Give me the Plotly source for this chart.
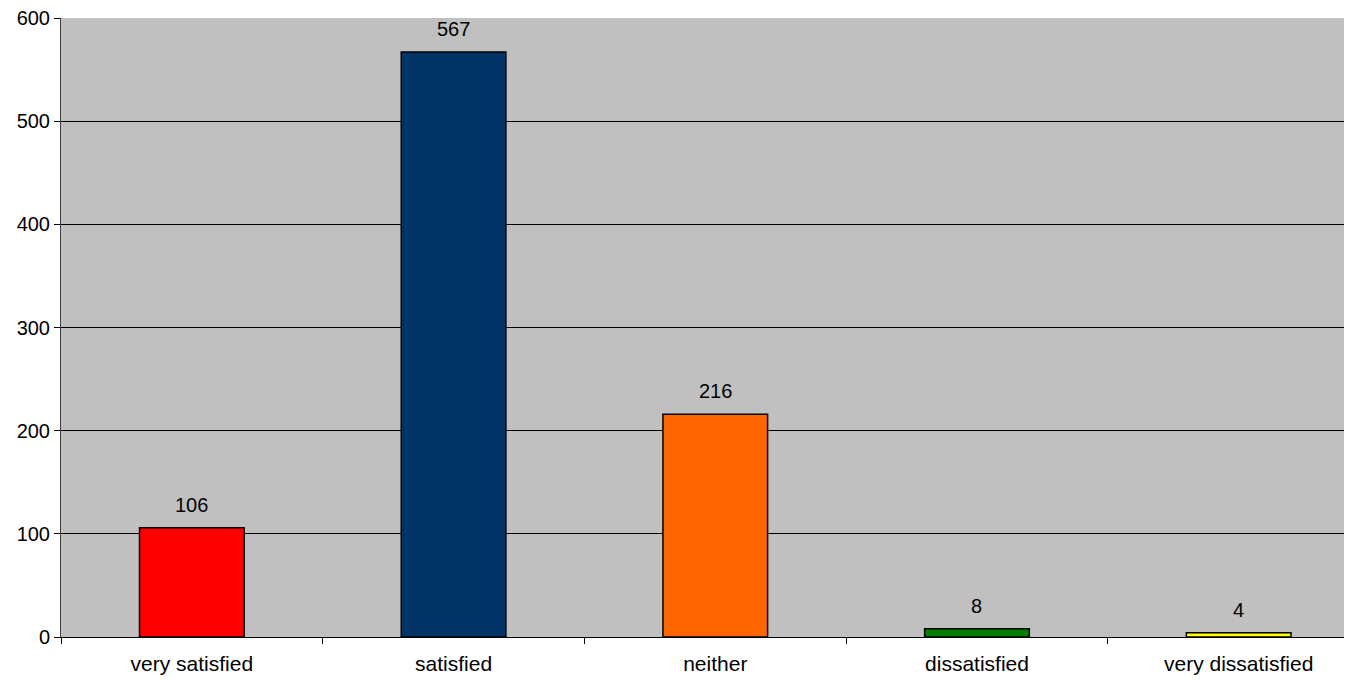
import plotly.graph_objects as go

categories = ["very satisfied", "satisfied", "neither", "dissatisfied", "very dissatisfied"]
values = [106, 567, 216, 8, 4]
colors = ["#FF0000", "#003366", "#FF6600", "#008000", "#FFFF00"]
y_ticks = [0, 100, 200, 300, 400, 500, 600]

FONT = "Liberation Sans, Arial"
fig = go.Figure()
fig.add_trace(go.Bar(
    x=categories, y=values,
    marker=dict(color=colors, line=dict(color="black", width=1.5)),
    width=0.40,
    hoverinfo="skip",
))
for c, v in zip(categories, values):
    fig.add_annotation(x=c, y=v, text=str(v), showarrow=False, yshift=23,
                       font=dict(family=FONT, size=20, color="black"))

# page body has an 8px margin, so the figure is sized to fill the rest of the window
fig.update_layout(
    width=1344, height=672,
    margin=dict(l=53, r=0, t=10, b=43, autoexpand=False),
    paper_bgcolor="white", plot_bgcolor="#C0C0C0",
    showlegend=False,
    font=dict(family=FONT, size=20, color="black"),
)
fig.update_xaxes(
    range=[-0.5, 4.433],
    showline=True, linecolor="black", linewidth=1,
    ticks="outside", tickson="boundaries", ticklen=6, tickcolor="black",
    showgrid=False, tickfont=dict(size=21), automargin=False,
    ticklabelstandoff=8,
)
fig.update_yaxes(
    range=[0, 600], tickvals=y_ticks,
    showline=True, linecolor="#404040", linewidth=1,
    ticks="outside", ticklen=6, tickcolor="black",
    showgrid=True, gridcolor="black", gridwidth=1,
    zeroline=False, tickfont=dict(size=20), automargin=False,
    ticklabeloverflow="allow",
)
fig.write_html("out.html")
